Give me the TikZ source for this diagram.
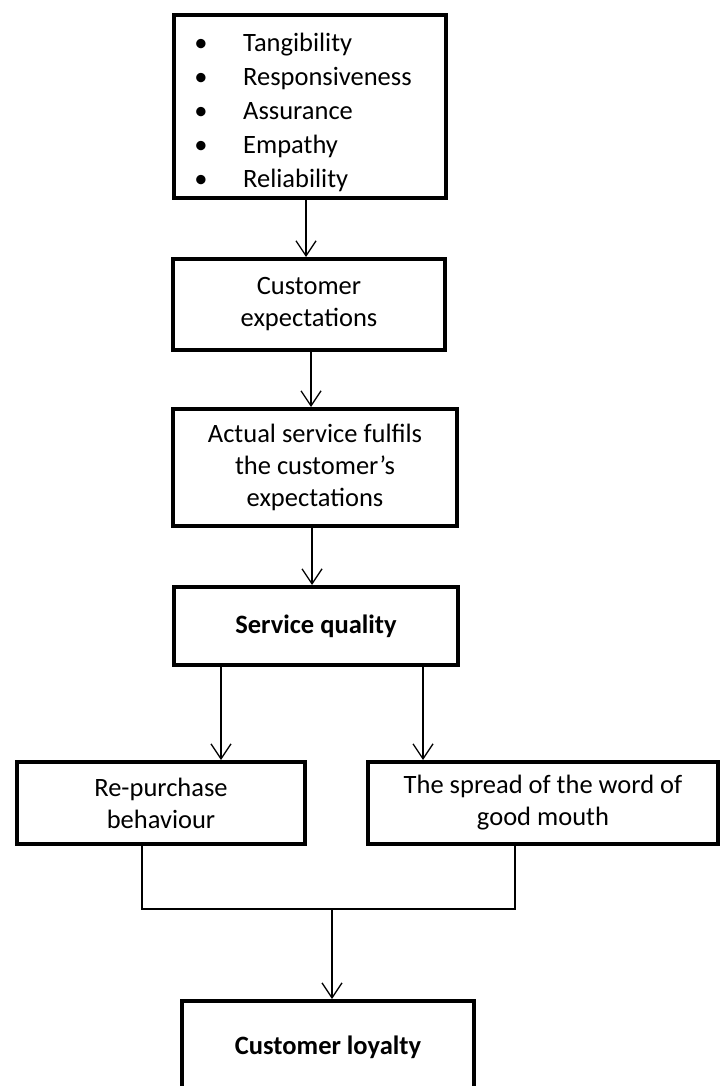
\documentclass[tikz,border=0pt]{standalone}
\usepackage{fontspec}
\setmainfont{Carlito}
\usetikzlibrary{arrows.meta,positioning}

\begin{document}
\begin{tikzpicture}[x=1pt, y=-1pt,
		box/.style={draw, line width=4pt, align=center, inner sep=0pt, font=\fontsize{26.5}{32}\selectfont},
		boldBox/.style={box, font=\fontsize{26.5}{32}\selectfont\bfseries},
		item/.style={anchor=base west, inner sep=0pt, font=\fontsize{26.5}{32}\selectfont},
		bullet/.style={anchor=base, inner sep=0pt, font=\fontsize{26.5}{32}\selectfont},
		flow/.style={-{Straight Barb[length=15pt,width=20pt]}, line width=1.3pt},
		joinLine/.style={line width=1.3pt}]
		
		\useasboundingbox (0,0) rectangle (726,1086);
		
		\node [box, minimum width=272pt, minimum height=183pt] (factors) at (310,106.5) {};
		\node [box, minimum width=272pt, minimum height=91pt] (expect) at (309,304.5) {Customer\\expectations};
		\node [box, minimum width=284pt, minimum height=117pt] (fulfil) at (315,467.5) {Actual service fulfils\\the customer’s\\expectations};
		\node [boldBox, minimum width=284pt, minimum height=78pt] (quality) at (316,626) {Service quality};
		\node [box, minimum width=288pt, minimum height=82pt] (repurch) at (161,803) {Re-purchase\\behaviour};
		\node [box, minimum width=350pt, minimum height=82pt] (spread) at (543,803) {The spread of the word of\\good mouth};
		\node [boldBox, minimum width=292pt, minimum height=92pt] (loyalty) at (328,1047) {Customer loyalty};
		\coordinate (join) at (332,909);
		
		\foreach \name [count=\i from 0] in {Tangibility, Responsiveness, Assurance, Empathy, Reliability}
		{\node [bullet] (bullet\i) at (201,52+34*\i) {\textbullet};
		 \node [item] (item\i) at (243,52+34*\i) {\name};}
		
		\draw [flow] ([xshift=-4pt]factors.south) -- ([xshift=-3pt]expect.north);
		\draw [flow] ([xshift=2pt]expect.south) -- ([xshift=-4pt]fulfil.north);
		\draw [flow] ([xshift=-3pt]fulfil.south) -- ([xshift=-4pt]quality.north);
		\draw [flow] ([xshift=-95pt]quality.south) -- ([xshift=60pt]repurch.north);
		\draw [flow] ([xshift=107pt]quality.south) -- ([xshift=-120pt]spread.north);
		\draw [joinLine] ([xshift=-19pt]repurch.south) |- (join) -| ([xshift=-28pt]spread.south);
		\draw [flow] (join) -- ([xshift=4pt]loyalty.north);
	\end{tikzpicture}
\end{document}
